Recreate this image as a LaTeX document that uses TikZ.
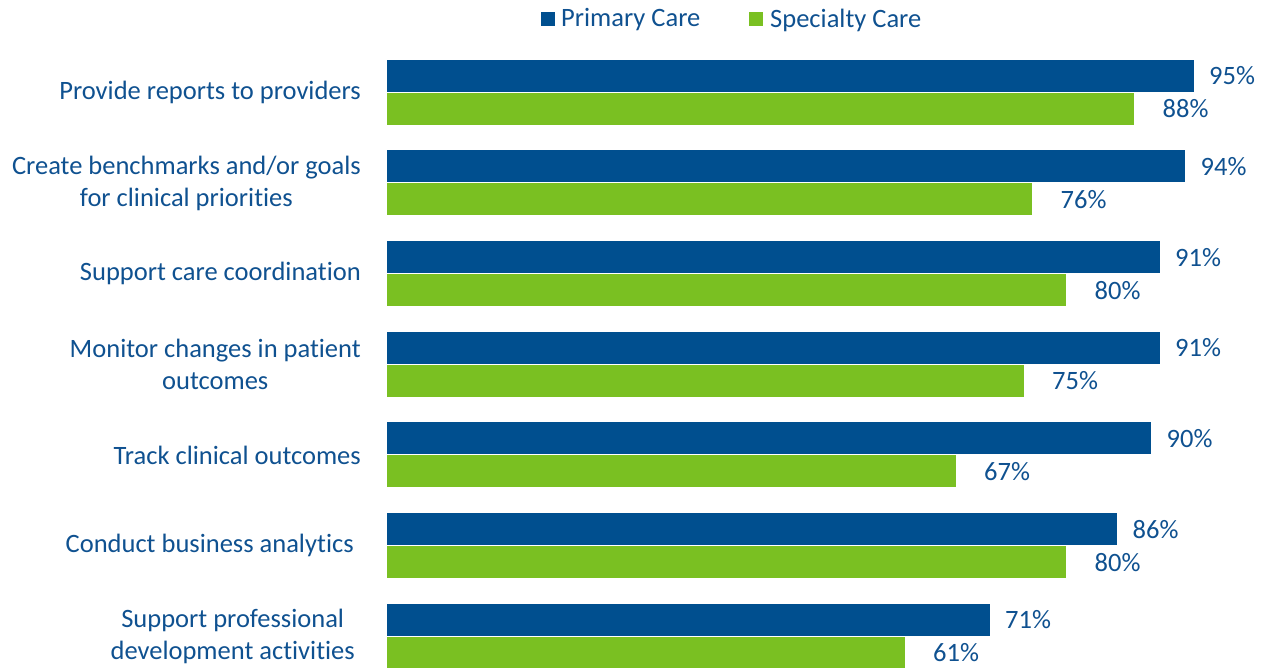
\documentclass[tikz,border=0pt]{standalone}
\usepackage{fontspec}
\setmainfont{Carlito}[Ligatures=NoCommon]
\usepackage{tikz}

\definecolor{primblue}{HTML}{004F8F}
\definecolor{specgreen}{HTML}{7AC022}
\definecolor{txtblue}{HTML}{0F5190}

\begin{document}
\begin{tikzpicture}[x=1pt,y=-1pt,
    txt/.style={text=txtblue,inner sep=0pt,font=\fontsize{26.5}{32}\selectfont},
    primbar/.style={fill=primblue,draw=white,line width=0.6pt},
    specbar/.style={fill=specgreen,draw=white,line width=0.6pt}]
                            \useasboundingbox (0,0) rectangle (1264,667);

                            % legend
                            \fill[primblue] (541,12) rectangle (555,26);
                            \node[txt,anchor=west] (legp) at (561,20) {Primary Care};
                            \fill[specgreen] (749,12) rectangle (763,26);
                            \node[txt,anchor=west] (legs) at (770,20) {Specialty Care};

                            % bars, one group per row
                            \foreach \i/\lx/\lab/\p/\s in {
                                0/361/{Provide reports to providers}/95/88,
                                1/361/{Create benchmarks and/or goals\\for clinical priorities}/94/76,
                                2/361/{Support care coordination}/91/80,
                                3/361/{Monitor changes in patient\\outcomes}/91/75,
                                4/361/{Track clinical outcomes}/90/67,
                                5/354/{Conduct business analytics}/86/80,
                                6/355/{Support professional\\development activities}/71/61}{
                                \pgfmathsetmacro{\yt}{59+\i*90.67}
                                \pgfmathsetmacro{\xp}{386.5+\p*8.5}
                                \pgfmathsetmacro{\xs}{386.5+\s*8.5}
                                \draw[primbar] (386.5,\yt) rectangle (\xp,\yt+33);
                                \draw[specbar] (386.5,\yt+33) rectangle (\xs,\yt+66);
                                \node[txt,anchor=west] (pv\i) at (\xp+15,\yt+17) {\p\%};
                                \node[txt,anchor=west] (sv\i) at (\xs+28,\yt+50) {\s\%};
                                \node[txt,anchor=east,align=center] (cat\i) at (\lx,\yt+33.5) {\lab};
                            }
                    \end{tikzpicture}
\end{document}
